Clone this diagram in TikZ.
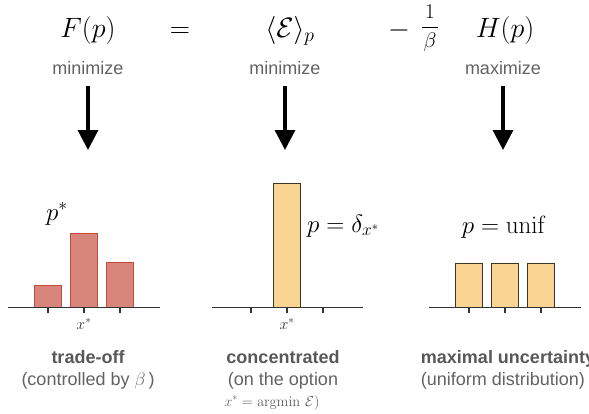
\RequirePackage{fix-cm}
\documentclass[tikz,border=0pt]{standalone}
\usepackage{amsmath}
\usepackage[no-math]{fontspec}
\setmainfont{Liberation Sans}
\definecolor{barred}{HTML}{D8857B}
\definecolor{edgered}{HTML}{C9483C}
\definecolor{baryellow}{HTML}{FAD492}
\definecolor{edgedark}{HTML}{3D3526}
\definecolor{axisgray}{HTML}{333333}
\definecolor{textgray}{HTML}{626262}
\usetikzlibrary{arrows.meta,positioning}

\begin{document}
\begin{tikzpicture}[x=1pt, y=-1pt,
  formula/.style={anchor=base, inner sep=0pt, font=\fontsize{28}{32}\selectfont},
  goal/.style={anchor=base, inner sep=0pt, text=textgray, font=\fontsize{18}{22}\selectfont},
  distlabel/.style={anchor=base, inner sep=0pt, font=\fontsize{25}{30}\selectfont},
  ticklabel/.style={anchor=base, inner sep=0pt, text=black!80, font=\fontsize{16}{19}\selectfont},
  headline/.style={anchor=base, inner sep=0pt, text=textgray!90!black, font=\fontsize{18}{22}\selectfont\bfseries},
  subline/.style={anchor=base, inner sep=0pt, text=textgray, font=\fontsize{18}{22}\selectfont},
  bigarrow/.style={-{Triangle[length=20pt, width=20pt]}, line width=3.3pt, shorten <=12pt},
  axisline/.style={draw=axisgray, line width=1.3pt},
  axtick/.style={draw=axisgray, line width=1.3pt},
  redbar/.style={fill=barred, draw=edgered, line width=1pt},
  yellowbar/.style={fill=baryellow, draw=edgedark, line width=1pt},
]
  \useasboundingbox (0,0) rectangle (589,413);

  % ---- top line: the free energy ----
  \node[formula] (fe)   at (88,37)    {$F(p)$};
  \node[formula] (eq)   at (180,37)   {$=$};
  \node[formula] (en)   at (290,37)   {$\langle\mathcal{E}\rangle_p$};
  \node[formula] (minus) at (399,37)  {$-$};
  \node[formula, font=\fontsize{21}{24}\selectfont] (temp) at (430,33)
    {$\dfrac{\,1\,}{\beta}$};
  \node[formula] (ent)  at (505,37)   {$H(p)$};

  \node[goal] (goalF) at (88,74)  {minimize};
  \node[goal] (goalE) at (285,74) {minimize};
  \node[goal] (goalH) at (503,74) {maximize};

  % ---- arrows down to the three cases ----
  \coordinate (endF) at (88,150);
  \coordinate (endE) at (285,150);
  \coordinate (endH) at (503,150);
  \draw[bigarrow] (goalF) -- (endF);
  \draw[bigarrow] (goalE) -- (endE);
  \draw[bigarrow] (goalH) -- (endH);

  % ---- case 1: trade-off ----
  \draw[redbar] (34.5,285) rectangle (61.5,307);
  \draw[redbar] (70,233)   rectangle (97,307);
  \draw[redbar] (106,262)  rectangle (133,307);
  \draw[axisline] (8,307.5) -- (160,307.5);
  \foreach \x in {48,84,120}
    \draw[axtick] (\x,307.5) -- (\x,313);
  \node[distlabel, anchor=base west] (pstar) at (46,220) {$p^*$};
  \node[ticklabel] (xs1) at (84,329) {$x^*$};
  \node[headline] (trade) at (88,363) {trade-off};
  \node[subline]  (tradesub) at (88,385) {(controlled by $\beta$\,)};

  % ---- case 2: concentrated ----
  \draw[yellowbar] (273.5,183) rectangle (300.5,307);
  \draw[axisline] (212,307.5) -- (363,307.5);
  \foreach \x in {251,287,323}
    \draw[axtick] (\x,307.5) -- (\x,313);
  \node[distlabel, anchor=base west] (delta) at (307,232) {$p=\delta_{x^*}$};
  \node[ticklabel] (xs2) at (287,329) {$x^*$};
  \node[headline] (conc) at (283,363) {concentrated};
  \node[subline]  (concsub) at (283,385) {(on the option};
  \node[subline, font=\fontsize{14.5}{17}\selectfont] (concmath) at (272,406)
    {$x^*=\mathop{\mathrm{argmin}}\,\mathcal{E})$};

  % ---- case 3: maximal uncertainty ----
  \foreach \x in {455.5,491,527}
    \draw[yellowbar] (\x,263) rectangle (\x+27,307);
  \draw[axisline] (429,307.5) -- (581,307.5);
  \foreach \x in {469,505,541}
    \draw[axtick] (\x,307.5) -- (\x,313);
  \node[distlabel] (unif) at (504,233) {$p=\mathrm{unif}$};
  \node[headline] (maxu) at (508,363) {maximal uncertainty};
  \node[subline]  (maxusub) at (503,385) {(uniform distribution)};
\end{tikzpicture}
\end{document}
